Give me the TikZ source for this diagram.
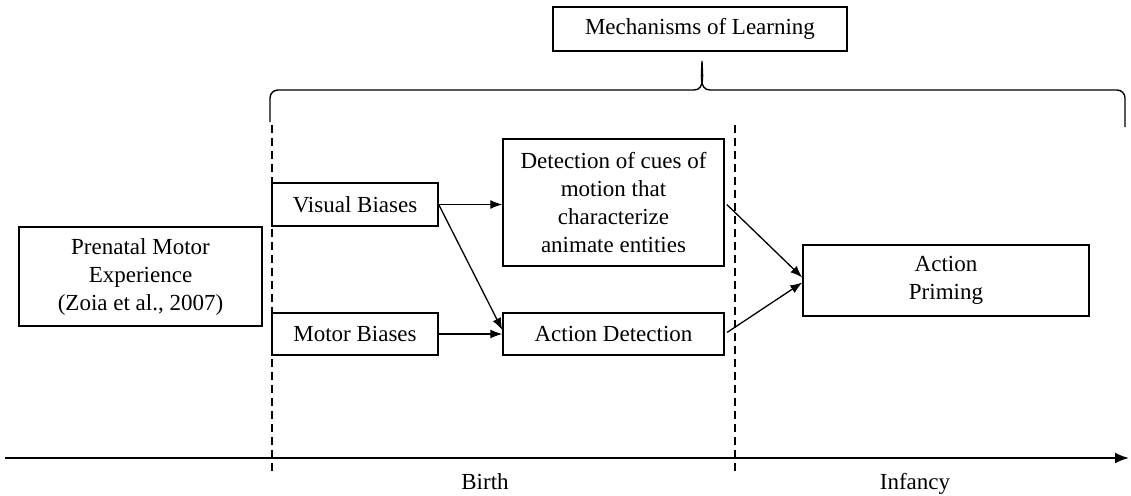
\documentclass[tikz,border=0pt]{standalone}
\usepackage{fontspec}
\setmainfont{Liberation Serif}
\usepackage{tikz}
\usetikzlibrary{arrows.meta}
\usetikzlibrary{positioning,calc}
\newcommand{\MyFont}{\fontsize{23}{28}\selectfont}
\begin{document}
\begin{tikzpicture}[
x=1pt, y=-1pt,
MyBoxes/.style={draw=black, line width=1.4pt, inner sep=0pt, align=center, font=\MyFont},
MyArrows/.style={-{Latex[length=12pt, width=9pt]}, line width=1.3pt},
Guides/.style={draw=black, line width=1.4pt, dash pattern=on 8pt off 5pt},
TimeLine/.style={-{Latex[length=14pt, width=11pt]}, line width=2pt},
Labels/.style={font=\MyFont, anchor=base}
]

\useasboundingbox (0,0) rectangle (1131,495);

% boxes
\node[MyBoxes, minimum width=294pt, minimum height=44pt] (mech) at (700,29) {Mechanisms of Learning};

\node[MyBoxes, minimum width=243pt, minimum height=99pt] (prenatal) at (140.5,276.5) {Prenatal Motor\\Experience\\(Zoia et al., 2007)};

\node[MyBoxes, minimum width=166pt, minimum height=43pt] (visual) at (355,204.5) {Visual Biases};
\node[MyBoxes, minimum width=166pt, minimum height=42pt] (motor) at (355,334) {Motor Biases};

\node[MyBoxes, minimum width=221pt, minimum height=127pt] (cues) at (613.5,202.5) {Detection of cues of\\motion that\\characterize\\animate entities};
\node[MyBoxes, minimum width=221pt, minimum height=42pt] (actdet) at (613.5,334) {Action Detection};

\node[MyBoxes, minimum width=286pt, minimum height=71pt] (priming) at (946,280.5) {Action\\Priming};

% brace under the title
\draw[line width=1.4pt] (270,122) -- (270,98) to[out=90,in=180] (278,90) -- (694,90)
  to[out=0,in=-90] (702,61) to[out=-90,in=180] (710,90) -- (1117,90)
  to[out=0,in=90] (1125,98) -- (1125,127);

% period borders
\coordinate (B1top) at (272,125);
\coordinate (B1bot) at (272,475);
\coordinate (B2top) at (735,125);
\coordinate (B2bot) at (735,475);
\draw[Guides] (B1top) -- (B1bot);
\draw[Guides] (B2top) -- (B2bot);

% time axis
\coordinate (T0) at (5,458);
\coordinate (T1) at (1129,458);
\draw[TimeLine] (T0) -- (T1);

\node[Labels] (birth) at (485,489) {Birth};
\node[Labels] (infancy) at (915,489) {Infancy};

% connections
\draw[MyArrows] (visual.east) -- (visual.east -| cues.west);
\draw[MyArrows] (visual.east) -- ([yshift=4pt]actdet.west);
\draw[MyArrows] (motor.east) -- (actdet.west);
\draw[MyArrows, shorten <=3pt] (cues.east) -- ([yshift=3pt]priming.west);
\draw[MyArrows, shorten <=3pt] (actdet.east) -- ([yshift=-2pt]priming.west);

\end{tikzpicture}
\end{document}
